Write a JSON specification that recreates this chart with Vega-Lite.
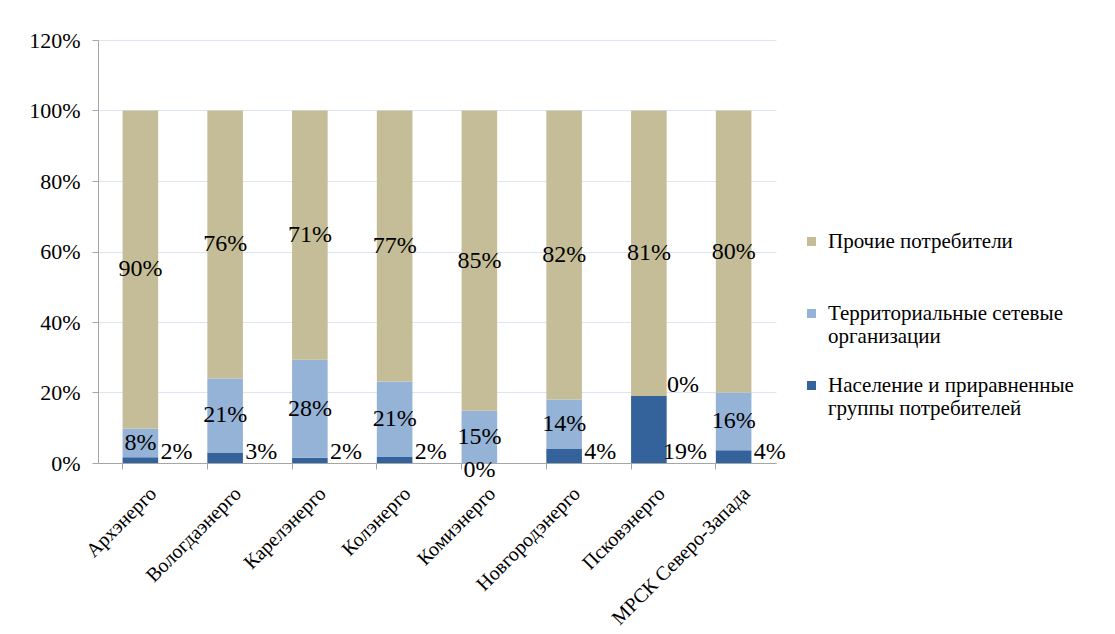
{
  "$schema": "https://vega.github.io/schema/vega-lite/v6.json",
  "width": 678,
  "height": 423,
  "autosize": "none",
  "padding": {"left": 98, "top": 40, "right": 339, "bottom": 171},
  "background": "white",
  "config": {
    "view": {"stroke": null},
    "font": "Liberation Serif",
    "text": {"font": "Liberation Serif"},
    "axis": {"labelFont": "Liberation Serif", "titleFont": "Liberation Serif"},
    "legend": {"labelFont": "Liberation Serif", "titleFont": "Liberation Serif"}
  },
  "data": {"values": [
    {"cat": "Архэнерго", "group": "Население и приравненные группы потребителей", "v": 0.016},
    {"cat": "Архэнерго", "group": "Территориальные сетевые организации", "v": 0.082},
    {"cat": "Архэнерго", "group": "Прочие потребители", "v": 0.902},
    {"cat": "Вологдаэнерго", "group": "Население и приравненные группы потребителей", "v": 0.03},
    {"cat": "Вологдаэнерго", "group": "Территориальные сетевые организации", "v": 0.21},
    {"cat": "Вологдаэнерго", "group": "Прочие потребители", "v": 0.76},
    {"cat": "Карелэнерго", "group": "Население и приравненные группы потребителей", "v": 0.015},
    {"cat": "Карелэнерго", "group": "Территориальные сетевые организации", "v": 0.278},
    {"cat": "Карелэнерго", "group": "Прочие потребители", "v": 0.707},
    {"cat": "Колэнерго", "group": "Население и приравненные группы потребителей", "v": 0.017},
    {"cat": "Колэнерго", "group": "Территориальные сетевые организации", "v": 0.214},
    {"cat": "Колэнерго", "group": "Прочие потребители", "v": 0.769},
    {"cat": "Комиэнерго", "group": "Население и приравненные группы потребителей", "v": 0},
    {"cat": "Комиэнерго", "group": "Территориальные сетевые организации", "v": 0.148},
    {"cat": "Комиэнерго", "group": "Прочие потребители", "v": 0.852},
    {"cat": "Новгородэнерго", "group": "Население и приравненные группы потребителей", "v": 0.04},
    {"cat": "Новгородэнерго", "group": "Территориальные сетевые организации", "v": 0.14},
    {"cat": "Новгородэнерго", "group": "Прочие потребители", "v": 0.82},
    {"cat": "Псковэнерго", "group": "Население и приравненные группы потребителей", "v": 0.19},
    {"cat": "Псковэнерго", "group": "Территориальные сетевые организации", "v": 0},
    {"cat": "Псковэнерго", "group": "Прочие потребители", "v": 0.81},
    {"cat": "МРСК Северо-Запада", "group": "Население и приравненные группы потребителей", "v": 0.036},
    {"cat": "МРСК Северо-Запада", "group": "Территориальные сетевые организации", "v": 0.164},
    {"cat": "МРСК Северо-Запада", "group": "Прочие потребители", "v": 0.8}
  ]},
  "transform": [
    {"calculate": "indexof(['Население и приравненные группы потребителей','Территориальные сетевые организации','Прочие потребители'], datum.group)", "as": "ord"},
    {"stack": "v", "groupby": ["cat"], "sort": [{"field": "ord", "order": "ascending"}], "as": ["v0", "v1"]},
    {"calculate": "(datum.v0 + datum.v1) / 2", "as": "mid"}
  ],
  "encoding": {
    "x": {
      "field": "cat", "type": "nominal", "sort": null, "title": null,
      "scale": {"paddingInner": 0.58, "paddingOuter": 0.29},
      "axis": {
        "labelAngle": -45, "labelFontSize": 20, "labelColor": "#000000", "labelFont": "Liberation Serif",
        "labelPadding": 14, "labelOffset": 6, "labelLimit": 0,
        "domainColor": "#A6A6A6", "tickColor": "#A6A6A6", "tickSize": 6,
        "bandPosition": 0, "grid": false
      }
    }
  },
  "layer": [
    {
      "mark": {"type": "bar"},
      "encoding": {
        "y": {
          "field": "v0", "type": "quantitative", "title": null,
          "scale": {"domain": [0, 1.2]},
          "axis": {
            "values": [0, 0.2, 0.4, 0.6, 0.8, 1.0, 1.2], "format": ".0%",
            "labelFontSize": 22, "labelColor": "#000000", "labelPadding": 12, "labelFont": "Liberation Serif",
            "domainColor": "#A6A6A6", "tickColor": "#A6A6A6", "tickSize": 6,
            "gridColor": "#DCE6F2", "gridWidth": 1
          }
        },
        "y2": {"field": "v1"},
        "color": {
          "field": "group", "type": "nominal",
          "scale": {
            "domain": ["Население и приравненные группы потребителей", "Территориальные сетевые организации", "Прочие потребители"],
            "range": ["#33639A", "#95B3D7", "#C4BD97"]
          },
          "legend": {
            "orient": "none", "legendX": 703, "legendY": 191,
            "title": null, "padding": 0,
            "values": ["Прочие потребители", "Территориальные сетевые организации", "Население и приравненные группы потребителей"],
            "symbolType": "square", "symbolSize": 81, "symbolStrokeWidth": 0,
            "labelFontSize": 21, "labelColor": "#000000", "labelLimit": 0, "labelOffset": 6, "labelFont": "Liberation Serif",
            "rowPadding": 27,
            "labelExpr": "datum.label == 'Территориальные сетевые организации' ? ['Территориальные  сетевые', 'организации'] : datum.label == 'Население и приравненные группы потребителей' ? ['Население  и  приравненные', 'группы  потребителей'] : [datum.label, ' ']"
          }
        }
      }
    },
    {
      "transform": [{"filter": "datum.ord > 0 && datum.v > 0"}],
      "mark": {"type": "text", "fontSize": 24, "color": "#000000", "font": "Liberation Serif"},
      "encoding": {
        "y": {"field": "mid", "type": "quantitative"},
        "text": {"field": "v", "type": "quantitative", "format": ".0%"}
      }
    },
    {
      "transform": [{"filter": "datum.ord == 1 && datum.v == 0"}],
      "mark": {"type": "text", "fontSize": 24, "color": "#000000", "font": "Liberation Serif", "dx": 34, "dy": -11},
      "encoding": {
        "y": {"field": "mid", "type": "quantitative"},
        "text": {"field": "v", "type": "quantitative", "format": ".0%"}
      }
    },
    {
      "transform": [{"filter": "datum.ord == 0 && datum.v > 0"}],
      "mark": {"type": "text", "fontSize": 24, "color": "#000000", "font": "Liberation Serif", "baseline": "alphabetic", "dx": 36, "dy": -4},
      "encoding": {
        "y": {"datum": 0, "type": "quantitative"},
        "text": {"field": "v", "type": "quantitative", "format": ".0%"}
      }
    },
    {
      "transform": [{"filter": "datum.ord == 0 && datum.v == 0"}],
      "mark": {"type": "text", "fontSize": 24, "color": "#000000", "font": "Liberation Serif", "baseline": "alphabetic", "dy": 14},
      "encoding": {
        "y": {"datum": 0, "type": "quantitative"},
        "text": {"field": "v", "type": "quantitative", "format": ".0%"}
      }
    }
  ]
}
